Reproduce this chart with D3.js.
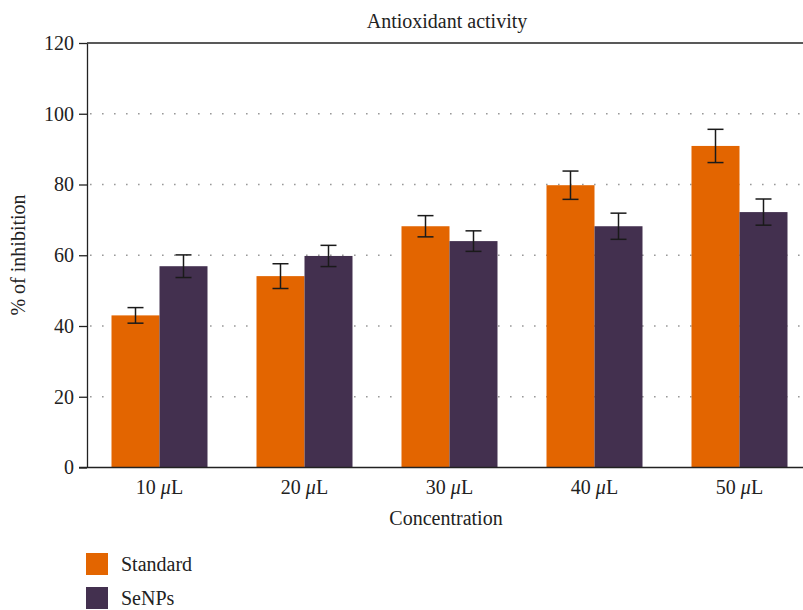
<!DOCTYPE html>
<html><head><meta charset="utf-8">
<script src="https://cdn.jsdelivr.net/npm/d3@7"></script>
<style>body{margin:0;background:#fff}svg{display:block}text{font-family:"Liberation Serif","DejaVu Serif",serif;fill:#222}</style>
</head><body><svg id="c" width="803" height="610"></svg>
<script>
const categories = ["10", "20", "30", "40", "50"];
const seriesNames = ["Standard", "SeNPs"];
const standardValues = [43.0, 54.1, 68.2, 79.8, 90.9];
const standardErrors = [2.2, 3.5, 3.0, 4.0, 4.7];
const senpsValues = [56.9, 59.8, 64.0, 68.2, 72.2];
const senpsErrors = [3.2, 3.0, 2.9, 3.7, 3.7];
const yTicks = [0, 20, 40, 60, 80, 100, 120];
const colors = ["#e36500", "#43304f"];

(function () {
const svg = d3.select("#c");
const mLeft = 87, mTop = 43, mBottom = 467.5, rightEnd = 812, visRight = 803;
const x = d3.scaleBand().domain(categories).range([mLeft, rightEnd]).paddingInner(49/145).paddingOuter(24.5/145);
const xs = d3.scaleBand().domain(seriesNames).range([0, x.bandwidth()]);
const y = d3.scaleLinear().domain([0, 120]).range([mBottom, mTop]);

// grid
svg.append("g").selectAll("line").data(yTicks.filter(t => t > 0 && t < 120)).join("line")
  .attr("x1", mLeft + 3).attr("x2", visRight).attr("y1", d => y(d)).attr("y2", d => y(d))
  .attr("stroke", "#999").attr("stroke-width", 1.6).attr("stroke-dasharray", "1.6,10.4");

const series = [
  {name: seriesNames[0], vals: standardValues, errs: standardErrors},
  {name: seriesNames[1], vals: senpsValues, errs: senpsErrors}
];
series.forEach((s, si) => {
  const g = svg.append("g");
  g.selectAll("rect").data(categories).join("rect")
    .attr("x", c => x(c) + xs(s.name)).attr("width", xs.bandwidth())
    .attr("y", (c, i) => y(s.vals[i])).attr("height", (c, i) => y(0) - y(s.vals[i]))
    .attr("fill", colors[si]);
});
series.forEach((s) => {
  const g = svg.append("g").attr("stroke", "#1a1a1a").attr("stroke-width", 1.5);
  categories.forEach((c, i) => {
    const cx = x(c) + xs(s.name) + xs.bandwidth() / 2;
    const hi = y(s.vals[i] + s.errs[i]), lo = y(s.vals[i] - s.errs[i]);
    g.append("line").attr("x1", cx).attr("x2", cx).attr("y1", hi).attr("y2", lo);
    g.append("line").attr("x1", cx - 8).attr("x2", cx + 8).attr("y1", hi).attr("y2", hi);
    g.append("line").attr("x1", cx - 8).attr("x2", cx + 8).attr("y1", lo).attr("y2", lo);
  });
});

// top line
svg.append("line").attr("x1", mLeft).attr("x2", visRight).attr("y1", mTop).attr("y2", mTop)
  .attr("stroke", "#222").attr("stroke-width", 1.3);

// y axis
const ya = svg.append("g").attr("transform", `translate(${mLeft},0)`)
  .call(d3.axisLeft(y).tickValues(yTicks).tickSize(8).tickSizeOuter(0).tickPadding(5));
ya.select(".domain").attr("stroke", "#222").attr("stroke-width", 1.3);
ya.selectAll(".tick line").attr("stroke", "#222").attr("stroke-width", 1.3);
ya.selectAll("text").attr("font-size", 20).attr("font-family", "Liberation Serif").attr("fill", "#222");

// x axis
svg.append("line").attr("x1", 79).attr("x2", visRight).attr("y1", mBottom).attr("y2", mBottom)
  .attr("stroke", "#222").attr("stroke-width", 1.3);
const xl = svg.append("g").selectAll("text").data(categories).join("text")
  .attr("x", c => x(c) + x.bandwidth() / 2).attr("y", 494)
  .attr("text-anchor", "middle").attr("font-size", 20);
xl.append("tspan").text(c => c + " ");
xl.append("tspan").attr("font-style", "italic").text("\u03bc");
xl.append("tspan").text("L");

svg.append("text").attr("x", 446).attr("y", 525).attr("text-anchor", "middle")
  .attr("font-size", 20).text("Concentration");
svg.append("text").attr("transform", "translate(25,255) rotate(-90)").attr("text-anchor", "middle")
  .attr("font-size", 20).text("% of inhibition");
svg.append("text").attr("x", 447).attr("y", 28).attr("text-anchor", "middle")
  .attr("font-size", 20).text("Antioxidant activity");

// legend
seriesNames.forEach((n, i) => {
  svg.append("rect").attr("x", 86).attr("y", 553 + i * 34).attr("width", 22).attr("height", 22).attr("fill", colors[i]);
  svg.append("text").attr("x", 121).attr("y", 571 + i * 34).attr("font-size", 20).text(n);
});
})();
</script></body></html>
